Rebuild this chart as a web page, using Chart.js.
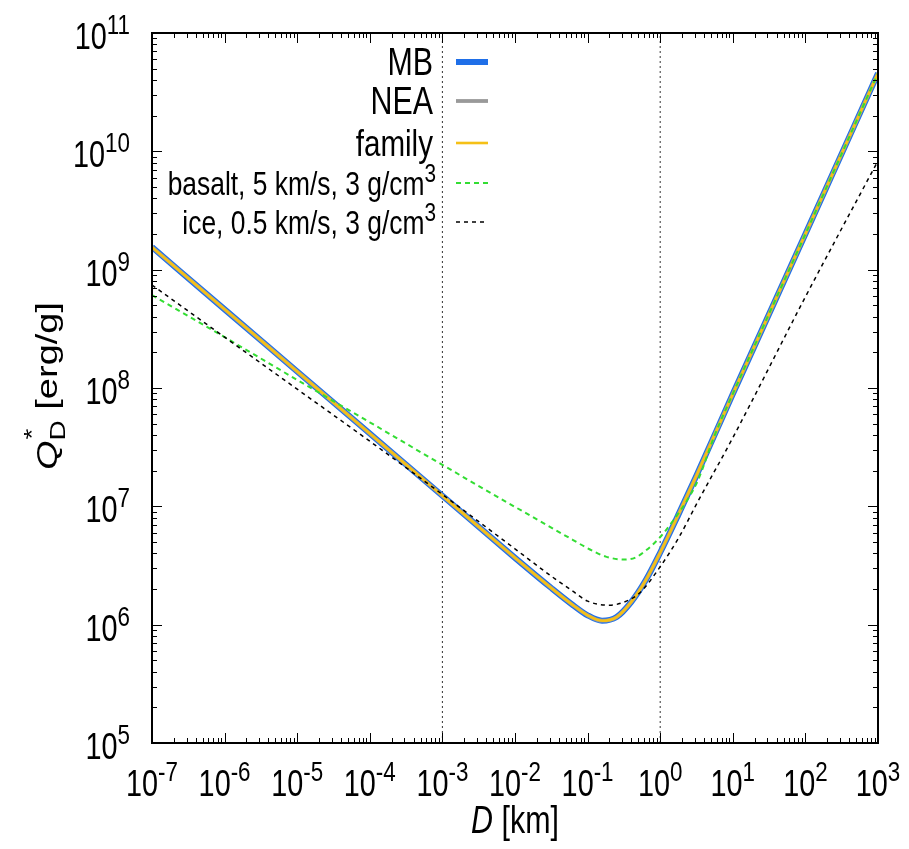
<!DOCTYPE html>
<html>
<head>
<meta charset="utf-8">
<script src="https://cdn.jsdelivr.net/npm/chart.js@4.4.0/dist/chart.umd.min.js"></script>
<style>
  html, body { margin: 0; padding: 0; background: #fff; }
  #wrap { width: 909px; height: 849px; }
</style>
</head>
<body>
<div id="wrap"><canvas id="qdChart" width="909" height="849"></canvas></div>
<script>
// diameters D [km] and Q*_D [erg/g]
const mainD = [1e-7, 1e-6, 1e-5, 1e-4, 1e-3, 1e-2, 0.0316, 0.0631, 0.1, 0.158, 0.251, 0.398, 0.631, 1, 1.78, 3.16, 10, 100, 1000];
const mbQ     = [1.55e9, 4.62e8, 1.38e8, 4.12e7, 1.23e7, 3.67e6, 2.04e6, 1.46e6, 1.2e6, 1.08e6, 1.16e6, 1.55e6, 2.37e6, 4.07e6, 8.51e6, 1.82e7, 8.91e7, 2.0e9, 4.57e10];
const neaQ    = [1.55e9, 4.62e8, 1.38e8, 4.12e7, 1.23e7, 3.67e6, 2.04e6, 1.46e6, 1.2e6, 1.08e6, 1.16e6, 1.55e6, 2.37e6, 4.07e6, 8.51e6, 1.82e7, 8.91e7, 2.0e9, 4.57e10];
const familyQ = [1.55e9, 4.62e8, 1.38e8, 4.12e7, 1.23e7, 3.67e6, 2.04e6, 1.46e6, 1.2e6, 1.08e6, 1.16e6, 1.55e6, 2.37e6, 4.07e6, 8.51e6, 1.82e7, 8.91e7, 2.0e9, 4.57e10];

const basaltD = [1e-7, 1e-6, 1e-5, 1e-4, 1e-3, 1e-2, 0.0316, 0.0631, 0.1, 0.178, 0.316, 0.447, 0.646, 1, 1.51, 2.34, 3.31, 5.62, 10, 100, 1000];
const basaltQ = [6.1e8, 2.69e8, 1.17e8, 5.13e7, 2.24e7, 9.89e6, 6.61e6, 5.19e6, 4.42e6, 3.76e6, 3.55e6, 3.67e6, 4.27e6, 5.5e6, 7.59e6, 1.12e7, 1.66e7, 3.98e7, 8.91e7, 2.0e9, 4.57e10];

const iceD = [1e-7, 1e-6, 1e-5, 1e-4, 1e-3, 1e-2, 0.0316, 0.0631, 0.1, 0.2, 0.316, 0.525, 1, 1.78, 3.31, 10, 100, 1000];
const iceQ = [7.41e8, 2.69e8, 9.77e7, 3.55e7, 1.26e7, 4.37e6, 2.57e6, 1.91e6, 1.58e6, 1.46e6, 1.55e6, 1.86e6, 3.09e6, 5.37e6, 1.1e7, 3.8e7, 5.89e8, 8.32e9];

// vertical reference lines
const markerD = [1e-3, 1];
const yRange = [1e5, 1e11];

const xDecades = [-7, -6, -5, -4, -3, -2, -1, 0, 1, 2, 3];
const yDecades = [5, 6, 7, 8, 9, 10, 11];

const FONT = '"Liberation Sans", Arial, sans-serif';
const SX = 0.8; // the figure's lettering is horizontally squeezed

const pts = (xs, ys) => xs.map((x, i) => ({ x: x, y: ys[i] }));

// parts: [text, size, raise, style]
function supText(ctx, parts, x, y, align) {
  let total = 0;
  parts.forEach(p => { ctx.font = (p[3] || '') + p[1] + 'px ' + FONT; total += ctx.measureText(p[0]).width * SX; });
  let cx = align === 'center' ? x - total / 2 : (align === 'right' ? x - total : x);
  ctx.textAlign = 'left';
  ctx.textBaseline = 'alphabetic';
  parts.forEach(p => {
    ctx.font = (p[3] || '') + p[1] + 'px ' + FONT;
    ctx.save();
    ctx.translate(cx, y - p[2]);
    ctx.scale(SX, 1);
    ctx.fillText(p[0], 0, 0);
    ctx.restore();
    cx += ctx.measureText(p[0]).width * SX;
  });
}

const framePlugin = {
  id: 'frame',
  afterDraw(chart) {
    const ctx = chart.ctx;
    const a = chart.chartArea;
    const xs = chart.scales.x, ys = chart.scales.y;
    ctx.save();
    ctx.strokeStyle = '#000';
    ctx.fillStyle = '#000';

    // ticks
    ctx.lineWidth = 1;
    ctx.beginPath();
    xDecades.forEach(k => {
      for (let m = 1; m < 10; m++) {
        if (k === 3 && m > 1) break;
        const px = Math.round(xs.getPixelForValue(m * Math.pow(10, k))) + 0.5;
        const len = m === 1 ? 10 : 5;
        ctx.moveTo(px, a.bottom); ctx.lineTo(px, a.bottom - len);
        ctx.moveTo(px, a.top); ctx.lineTo(px, a.top + len);
      }
    });
    yDecades.forEach(k => {
      for (let m = 1; m < 10; m++) {
        if (k === 11 && m > 1) break;
        const py = Math.round(ys.getPixelForValue(m * Math.pow(10, k))) + 0.5;
        const len = m === 1 ? 10 : 5;
        ctx.moveTo(a.left, py); ctx.lineTo(a.left + len, py);
        ctx.moveTo(a.right, py); ctx.lineTo(a.right - len, py);
      }
    });
    ctx.stroke();

    // frame
    ctx.lineWidth = 2;
    ctx.strokeRect(a.left, a.top, a.right - a.left, a.bottom - a.top);

    // tick labels
    xDecades.forEach(k => {
      const px = xs.getPixelForValue(Math.pow(10, k));
      supText(ctx, [['10', 36, 0], [String(k), 28, 15]], px, 796, 'center');
    });
    yDecades.forEach(k => {
      const py = ys.getPixelForValue(Math.pow(10, k));
      supText(ctx, [['10', 36, 0], [String(k), 28, 15]], 130, py + 16, 'right');
    });

    // x title
    supText(ctx, [['D', 38, 0, 'italic '], [' [km]', 38, 0]], 515, 833, 'center');

    // y title, rotated (squeeze goes across the letters here)
    ctx.save();
    ctx.translate(57, 386);
    ctx.rotate(-Math.PI / 2);
    ctx.scale(1, SX);
    ctx.textAlign = 'left';
    ctx.textBaseline = 'alphabetic';
    ctx.font = 'italic 38px ' + FONT;
    const wq = ctx.measureText('Q').width;
    ctx.font = '38px ' + FONT;
    const wr = ctx.measureText(' [erg/g]').width;
    ctx.font = '28px ' + FONT;
    const wd = ctx.measureText('D').width;
    const tot = wq + wd + wr;
    let cx = -tot / 2;
    ctx.font = 'italic 38px ' + FONT;
    ctx.fillText('Q', cx, 0);
    cx += wq;
    ctx.font = '28px ' + FONT;
    ctx.fillText('*', cx + 1, -22);
    ctx.fillText('D', cx, 10);
    cx += wd;
    ctx.font = '38px ' + FONT;
    ctx.fillText(' [erg/g]', cx, 0);
    ctx.restore();

    // legend
    const rows = [62, 101, 143, 183, 222];
    const sizes = [38, 38, 37, 33, 33];
    let r = 0;
    chart.data.datasets.forEach(ds => {
      if (!ds.label) return;
      const yc = rows[r];
      const fs = sizes[r];
      if (ds.label.endsWith('cm3')) {
        supText(ctx, [[ds.label.slice(0, -1), fs, 0], ['3', 26, 13]], 436, yc + 12, 'right');
      } else {
        supText(ctx, [[ds.label, fs, 0]], 433, yc + 13, 'right');
      }
      ctx.save();
      ctx.strokeStyle = ds.borderColor;
      ctx.lineWidth = ds.borderWidth;
      ctx.setLineDash(ds.borderDash || []);
      ctx.beginPath();
      ctx.moveTo(456, yc); ctx.lineTo(488, yc);
      ctx.stroke();
      ctx.restore();
      r++;
    });
    ctx.restore();
  }
};

const lineStyle = {
  showLine: true,
  pointRadius: 0,
  fill: false,
  cubicInterpolationMode: 'monotone'
};

const qdChart = new Chart(
  document.getElementById('qdChart'),
  {
    type: 'scatter',
    data: {
      datasets: [
        Object.assign({ label: 'MB', data: pts(mainD, mbQ), borderColor: '#1f6fe8', borderWidth: 6, order: 5 }, lineStyle),
        Object.assign({ label: 'NEA', data: pts(mainD, neaQ), borderColor: '#999999', borderWidth: 3.8, order: 4 }, lineStyle),
        Object.assign({ label: 'family', data: pts(mainD, familyQ), borderColor: '#f5c016', borderWidth: 2.6, order: 3 }, lineStyle),
        Object.assign({ label: 'basalt, 5 km/s, 3 g/cm3', data: pts(basaltD, basaltQ), borderColor: '#33dd33', borderWidth: 2, borderDash: [5, 4], order: 2 }, lineStyle),
        Object.assign({ label: 'ice, 0.5 km/s, 3 g/cm3', data: pts(iceD, iceQ), borderColor: '#000000', borderWidth: 1.5, borderDash: [4, 4], order: 1 }, lineStyle),
        { data: pts([markerD[0], markerD[0]], yRange), showLine: true, pointRadius: 0, borderColor: '#333', borderWidth: 1, borderDash: [2, 3], order: 6 },
        { data: pts([markerD[1], markerD[1]], yRange), showLine: true, pointRadius: 0, borderColor: '#333', borderWidth: 1, borderDash: [2, 3], order: 6 }
      ]
    },
    options: {
      responsive: false,
      animation: false,
      devicePixelRatio: 1,
      layout: { padding: { top: 33, right: 31, left: 0, bottom: 0 } },
      plugins: {
        legend: { display: false },
        tooltip: { enabled: false }
      },
      scales: {
        x: {
          type: 'logarithmic',
          min: 1e-7,
          max: 1e3,
          grid: { display: false },
          border: { display: false },
          ticks: { display: false },
          afterFit(scale) { scale.height = 106; }
        },
        y: {
          type: 'logarithmic',
          min: 1e5,
          max: 1e11,
          grid: { display: false },
          border: { display: false },
          ticks: { display: false },
          afterFit(scale) { scale.width = 152; }
        }
      }
    },
    plugins: [framePlugin]
  }
);
</script>
</body>
</html>
